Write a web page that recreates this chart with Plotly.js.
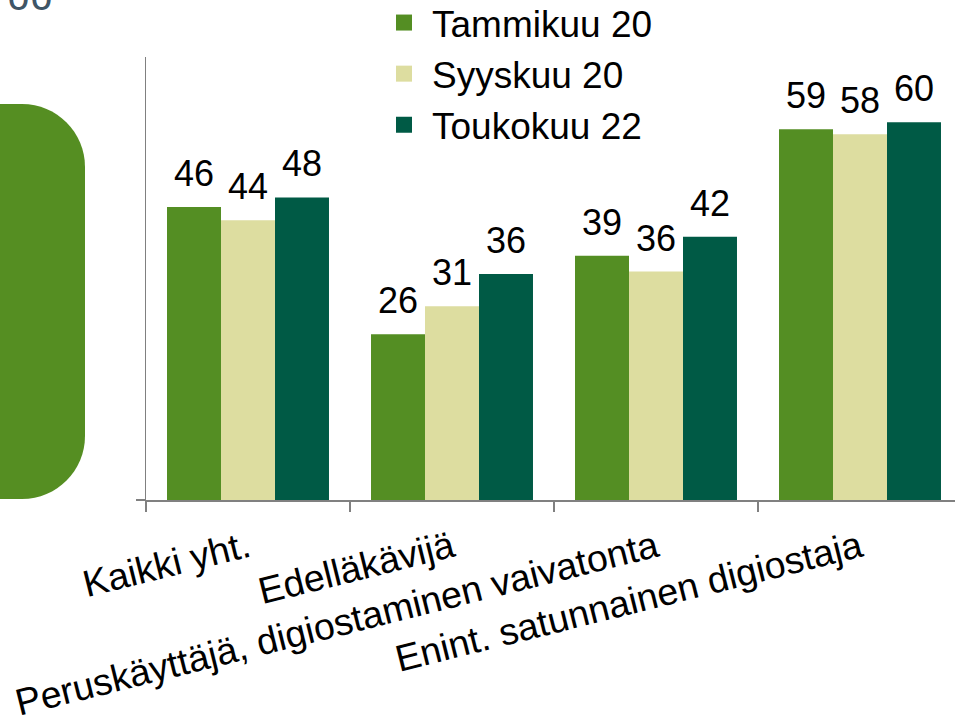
<!DOCTYPE html>
<html>
<head>
<meta charset="utf-8">
<script src="https://cdn.plot.ly/plotly-3.0.1.min.js"></script>
<style>html,body{margin:0;padding:0;background:#fff;}#chart{width:955px;height:716px;}</style>
</head>
<body>
<div id="chart"></div>
<script>
const categories = ["Kaikki yht.", "Edelläkävijä", "Peruskäyttäjä, digiostaminen vaivatonta", "Enint. satunnainen digiostaja"];
const seriesNames = ["Tammikuu 20", "Syyskuu 20", "Toukokuu 22"];
const tammikuu20 = [46.3, 26.2, 38.6, 58.6];
const syyskuu20 = [44.2, 30.6, 36.1, 57.8];
const toukokuu22 = [47.8, 35.7, 41.6, 59.7];
const cornerText = "100";

const colors = ["#548E23", "#DDDDA0", "#005A45"];
const series = [tammikuu20, syyskuu20, toukokuu22];
const W = 955, H = 716;
const M = {l: 146, r: 0, t: 57, b: 216};
const PW = W - M.l - M.r, PH = H - M.t - M.b;
const bargap = 0.206;
const font = '"Liberation Sans", Arial, sans-serif';

const px = x => (x - M.l) / PW;
const py = y => (H - M.b - y) / PH;

const traces = [];
series.forEach((vals, i) => {
  traces.push({
    type: 'bar', x: categories, y: vals, name: seriesNames[i],
    marker: {color: colors[i], line: {width: 0}},
    showlegend: false, hoverinfo: 'skip'
  });
});
series.forEach((vals, i) => {
  traces.push({
    type: 'scatter', mode: 'markers', x: [null], y: [null], name: seriesNames[i],
    marker: {symbol: 'square', size: 16, color: colors[i]}, showlegend: true, hoverinfo: 'skip'
  });
});

const bw = (1 - bargap) / series.length;
const annotations = [];
series.forEach((vals, i) => {
  vals.forEach((v, c) => {
    annotations.push({
      x: c + (i - (series.length - 1) / 2) * bw, y: v, xref: 'x', yref: 'y',
      text: String(Math.round(v)), showarrow: false, yanchor: 'bottom', xanchor: 'center',
      yshift: 11, font: {family: font, size: 36, color: '#000'}
    });
  });
});
annotations.push({
  xref: 'paper', yref: 'paper', x: px(55), y: py(22), xanchor: 'right', yanchor: 'bottom',
  text: cornerText, showarrow: false, font: {family: 'Roboto, sans-serif', size: 41, color: '#3F5566'}
});

// rounded rectangle decoration (partly off-canvas)
const L = -20, R = 85, T = 104, B = 499, r = 63, k = 0.5523 * r;
const p = (x, y) => px(x).toFixed(5) + ',' + py(y).toFixed(5);
const path = 'M' + p(L, T) + ' L' + p(R - r, T) +
  ' C' + p(R - r + k, T) + ' ' + p(R, T + r - k) + ' ' + p(R, T + r) +
  ' L' + p(R, B - r) +
  ' C' + p(R, B - r + k) + ' ' + p(R - r + k, B) + ' ' + p(R - r, B) +
  ' L' + p(L, B) + ' Z';

const layout = {
  width: W, height: H, margin: Object.assign({autoexpand: false}, M),
  paper_bgcolor: '#fff', plot_bgcolor: '#fff',
  font: {family: font, size: 36, color: '#000'},
  barmode: 'group', bargap: bargap, bargroupgap: 0,
  showlegend: true,
  legend: {x: px(376), xanchor: 'left', y: py(-8), yanchor: 'top', font: {family: font, size: 37, color: '#000'},
    itemwidth: 46, bgcolor: 'rgba(0,0,0,0)', traceorder: 'normal'},
  xaxis: {
    type: 'category', range: [-0.5, -0.5 + PW / 204], tickangle: -14,
    showline: true, linecolor: '#808080', linewidth: 1.5,
    ticks: 'outside', tickson: 'boundaries', ticklen: 10, tickcolor: '#808080', tickwidth: 1.5,
    ticklabelstandoff: 10, automargin: false,
    showgrid: false, zeroline: false, fixedrange: true,
    tickfont: {family: font, size: 37.5, color: '#000'}
  },
  yaxis: {
    range: [0, 70], showline: true, linecolor: '#808080', linewidth: 1.5, automargin: false,
    ticks: 'outside', tickvals: [0], ticklen: 9, tickcolor: '#808080', tickwidth: 1.5,
    showticklabels: false, showgrid: false, zeroline: false, fixedrange: true
  },
  shapes: [{type: 'path', xref: 'paper', yref: 'paper', path: path, fillcolor: '#558E22', line: {width: 0}, layer: 'below'}],
  annotations: annotations
};

Plotly.newPlot('chart', traces, layout, {displayModeBar: false, staticPlot: true});
</script>
</body>
</html>
